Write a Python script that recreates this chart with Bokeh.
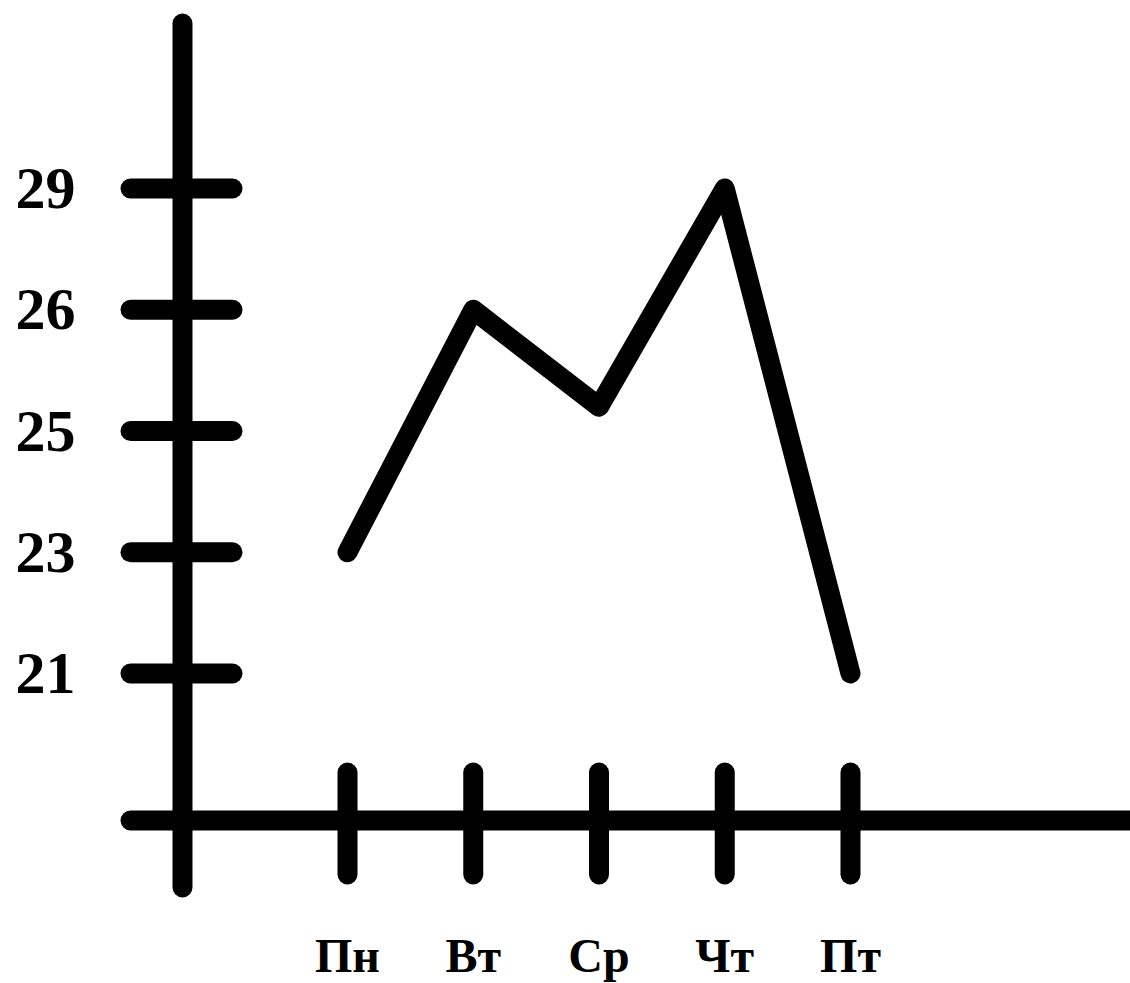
import numpy as np
from bokeh.plotting import figure
from bokeh.models import Range1d
from bokeh.core.properties import value
from bokeh.embed import file_html
from bokeh.resources import INLINE

# ---- data ----
days = ["Пн", "Вт", "Ср", "Чт", "Пт"]
y_tick_values = [21, 23, 25, 26, 29]
y_tick_labels = ["21", "23", "25", "26", "29"]
temps = [23, 26, 25.2, 29, 21]

# ---- layout (screen pixels of the page) ----
W, H = 1130, 983
OFF = 0
X0, DX = 347, 125.75      # day i  -> x = X0 + DX*i
Y0, DY = 673, 121.25      # slot s -> y = Y0 - DY*s (ticks evenly spaced)
LW = 20
FONT = value("Liberation Serif")


def dx(px):
    return (px - X0) / DX


def dy(py):
    return (Y0 - py) / DY


p = figure(width=W, height=H,
           x_range=Range1d(dx(OFF), dx(OFF + W)),
           y_range=Range1d(dy(OFF + H), dy(OFF)),
           output_backend="svg", toolbar_location=None,
           x_axis_location=None, y_axis_location=None,
           min_border=0, outline_line_color=None,
           background_fill_color="white", border_fill_color="white")
p.grid.visible = False

day_x = np.arange(len(days))
slot_y = np.arange(len(y_tick_values))
temp_slot = np.interp(temps, y_tick_values, slot_y)

# axis lines
p.segment(x0=[dx(182)], y0=[dy(13 + LW / 2)], x1=[dx(182)], y1=[dy(897 - LW / 2)],
          line_width=LW, line_color="black", line_cap="round")
p.segment(x0=[dx(120 + LW / 2)], y0=[dy(820)], x1=[dx(1200)], y1=[dy(820)],
          line_width=LW, line_color="black", line_cap="round")

# y ticks
p.segment(x0=np.full(len(slot_y), dx(120 + LW / 2)), y0=slot_y,
          x1=np.full(len(slot_y), dx(242 - LW / 2)), y1=slot_y,
          line_width=LW, line_color="black", line_cap="round")
# x ticks
p.segment(x0=day_x, y0=np.full(len(day_x), dy(762 + LW / 2)),
          x1=day_x, y1=np.full(len(day_x), dy(884 - LW / 2)),
          line_width=LW, line_color="black", line_cap="round")

# data line
p.line(x=day_x, y=temp_slot, line_width=LW, line_color="black",
       line_join="round", line_cap="round")

# labels
p.text(x=np.full(len(slot_y), dx(75)), y=slot_y, text=y_tick_labels,
       text_font=FONT, text_font_style="bold", text_font_size="60px",
       text_align="right", text_baseline="middle", text_color="black")
p.text(x=day_x, y=np.full(len(day_x), dy(955)), text=days,
       text_font=FONT, text_font_style="bold", text_font_size="48px",
       text_align="center", text_baseline="middle", text_color="black")

open("out.html", "w").write(file_html(p, INLINE))
